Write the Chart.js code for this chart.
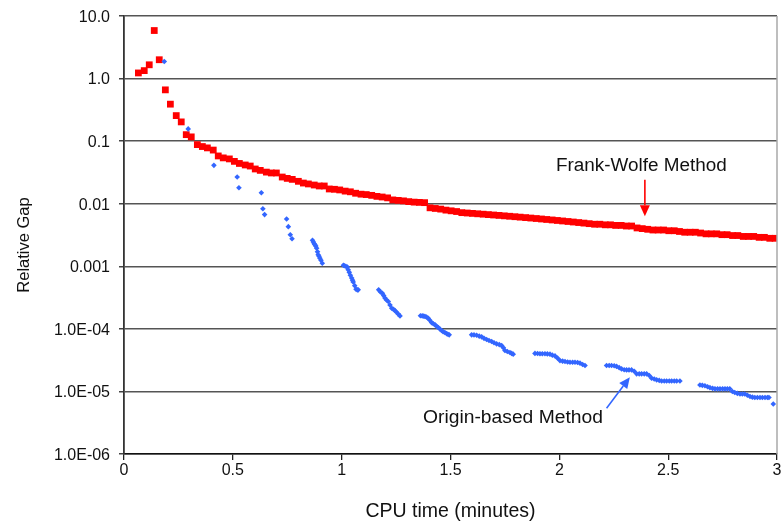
<!DOCTYPE html>
<html><head><meta charset="utf-8">
<script src="https://cdn.jsdelivr.net/npm/chart.js@4/dist/chart.umd.min.js"></script>
<style>html,body{margin:0;padding:0;background:#fff}</style>
</head><body>
<canvas id="c" width="784" height="527"></canvas>
<script>
// ---- data ----
const fwTime = [0.066,0.093,0.116,0.139,0.162,0.190,0.213,0.240,0.263,0.286,0.309,0.337,0.360,0.383,0.410,0.433,0.456,0.484,0.507,0.530,0.557,0.580,0.603,0.626,0.654,0.677,0.700,0.727,0.750,0.773,0.801,0.824,0.847,0.874,0.897,0.920,0.943,
0.967,0.991,1.016,1.040,1.064,1.089,1.113,1.138,1.162,1.186,1.211,1.235,1.260,1.284,1.308,1.333,1.357,1.381,1.406,1.430,1.455,1.479,1.503,1.528,1.552,1.577,1.601,1.625,1.650,1.674,1.698,1.723,1.747,1.772,1.796,1.820,1.845,1.869,1.894,1.918,1.942,1.967,1.991,2.015,2.040,2.064,2.089,2.113,2.137,2.162,2.186,2.211,2.235,2.259,2.284,2.308,2.332,2.357,2.381,2.406,2.430,2.454,2.479,2.503,2.528,2.552,2.576,2.601,2.625,2.649,2.674,2.698,2.723,2.747,2.771,2.796,2.820,2.845,2.869,2.893,2.918,2.942,2.967,2.991];
const fwGap = [1.23,1.34,1.66,5.86,2.0,0.66,0.39,0.256,0.203,0.127,0.117,0.088,0.082,0.078,0.072,0.058,0.054,0.052,0.0475,0.044,0.0416,0.040,0.0359,0.0341,0.032,0.031,0.031,0.0267,0.0254,0.0245,0.0228,0.0214,0.0207,0.0199,0.0192,0.0192,0.0172,
0.0170,0.0166,0.0159,0.0155,0.0147,0.0142,0.0140,0.0136,0.0131,0.0128,0.0124,0.0115,0.0113,0.0111,0.0108,0.0106,0.0105,0.0104,0.0086,0.0084,0.0082,0.0079,0.0077,0.0075,0.0072,0.0071,0.0070,0.0069,0.0068,0.0067,0.0066,0.0065,0.0064,0.0063,0.0062,0.0061,0.0060,0.0059,0.0058,0.0057,0.0056,0.0055,0.0054,0.0053,0.0052,0.0051,0.0050,0.0049,0.0048,0.0047,0.0047,0.0046,0.0046,0.0045,0.0045,0.0044,0.0044,0.0041,0.0040,0.0039,0.0038,0.0038,0.0038,0.0037,0.0037,0.0036,0.0035,0.0035,0.0035,0.0034,0.0033,0.0033,0.0033,0.0032,0.0032,0.0031,0.0031,0.0030,0.0030,0.0030,0.0029,0.0029,0.0028,0.0028];

const obTime = [0.185,0.295,0.413,0.520,0.528,0.631,0.638,0.646,0.747,0.755,0.764,0.772,
0.866,0.870,0.874,0.877,0.881,0.885,0.889,0.892,0.896,0.900,0.905,0.911,
1.008,1.012,1.019,1.026,1.030,1.035,1.040,1.046,1.050,1.053,1.060,1.066,1.072,1.076,
1.170,1.178,1.187,1.193,1.199,1.206,1.214,1.222,1.230,1.238,1.245,1.252,1.260,1.268,
1.362,1.370,1.377,1.383,1.390,1.398,1.405,1.413,1.421,1.429,1.436,1.444,1.451,1.459,1.466,1.474,1.482,1.488,1.494,
1.597,1.608,1.620,1.632,1.643,1.654,1.666,1.677,1.689,1.700,1.712,1.724,1.735,1.743,1.750,1.761,1.773,1.781,1.788,
1.888,1.900,1.911,1.922,1.934,1.945,1.957,1.968,1.980,1.992,2.003,2.015,2.026,2.038,2.049,2.061,2.072,2.084,2.095,2.107,2.118,
2.217,2.229,2.240,2.252,2.263,2.275,2.286,2.298,2.309,2.320,2.332,2.344,2.355,2.367,2.378,2.390,2.401,2.413,2.424,2.436,2.447,2.459,2.470,2.482,2.493,2.505,2.516,2.528,2.539,2.554,
2.646,2.657,2.669,2.681,2.692,2.704,2.715,2.727,2.738,2.750,2.761,2.772,2.783,2.795,2.806,2.818,2.830,2.841,2.852,2.864,2.876,2.887,2.898,2.910,2.922,2.933,2.945,2.956,2.963,2.983];
const obGap = [1.87,0.157,0.041,0.0267,0.018,0.015,0.0083,0.0067,0.0057,0.0043,0.0032,0.00275,
0.0026,0.00244,0.0023,0.00221,0.0021,0.00195,0.0017,0.00153,0.00145,0.00135,0.00125,0.00112,
0.00104,0.00102,0.00100,0.00097,0.00088,0.00080,0.00072,0.00065,0.00060,0.00056,0.00049,0.00043,0.00042,0.00042,
0.00042,0.00039,0.00037,0.00034,0.00031,0.00029,0.000273,0.00024,0.000214,0.000205,0.000196,0.000184,0.000172,0.000161,
0.000162,0.000161,0.00016,0.000158,0.000154,0.000148,0.000137,0.000126,0.000121,0.000116,0.00011,0.000105,0.0000995,0.000094,0.00009,0.0000873,0.000084,0.000082,0.0000802,
0.0000802,0.00008,0.000079,0.0000765,0.0000745,0.0000705,0.0000675,0.000065,0.0000627,0.00006,0.0000575,0.000056,0.000054,0.00005,0.000045,0.0000435,0.0000418,0.0000405,0.0000394,
0.0000405,0.0000403,0.00004,0.00004,0.00004,0.0000398,0.0000394,0.000038,0.000037,0.000034,0.0000311,0.0000305,0.00003,0.0000296,0.0000293,0.0000293,0.0000293,0.000029,0.0000283,0.000027,0.0000259,
0.0000259,0.0000259,0.0000259,0.0000257,0.0000251,0.000024,0.0000229,0.0000222,0.0000221,0.0000221,0.0000221,0.000021,0.0000191,0.0000191,0.0000191,0.0000191,0.0000191,0.000018,0.0000163,0.0000158,0.0000153,0.000015,0.0000147,0.0000147,0.0000147,0.0000147,0.0000147,0.0000147,0.0000147,0.0000147,
0.0000127,0.0000125,0.0000123,0.0000119,0.0000115,0.0000112,0.000011,0.000011,0.000011,0.000011,0.000011,0.000011,0.000011,0.00001,0.0000096,0.0000093,0.0000091,0.0000091,0.0000091,0.0000087,0.0000083,0.0000081,0.000008,0.000008,0.000008,0.000008,0.000008,0.000008,0.000008,0.0000063];

const xTickValues = [0,0.5,1,1.5,2,2.5,3];
const xTickLabels = ['0','0.5','1','1.5','2','2.5','3'];
const yTickValues = [10,1,0.1,0.01,0.001,1e-4,1e-5,1e-6];
const yTickLabels = ['10.0','1.0','0.1','0.01','0.001','1.0E-04','1.0E-05','1.0E-06'];
const xTitle = 'CPU time (minutes)';
const yTitle = 'Relative Gap';
const fwLabel = 'Frank-Wolfe Method';
const obLabel = 'Origin-based Method';
// annotation anchors in data units
const fwNote = {x: 2.377, y: 0.033};
const fwArrow = {x0: 2.393, y0: 0.0242, x1: 2.393, y1: 0.0063};
const obNote = {x: 1.787, y: 3.13e-6};
const obArrow = {x0: 2.217, y0: 5.4e-6, x1: 2.324, y1: 1.69e-5};

const FONT = '"Liberation Sans", Arial, Helvetica, sans-serif';
const RED = '#ff0000';
const BLUE = '#3366ff';

function arrow(ctx, x0, y0, x1, y1, color) {
  const ang = Math.atan2(y1 - y0, x1 - x0);
  const L = 11, W = 5;
  const bx = x1 - L * Math.cos(ang), by = y1 - L * Math.sin(ang);
  ctx.strokeStyle = color; ctx.fillStyle = color; ctx.lineWidth = 1.6;
  ctx.beginPath(); ctx.moveTo(x0, y0); ctx.lineTo(bx, by); ctx.stroke();
  ctx.beginPath();
  ctx.moveTo(x1, y1);
  ctx.lineTo(bx + W * Math.sin(ang), by - W * Math.cos(ang));
  ctx.lineTo(bx - W * Math.sin(ang), by + W * Math.cos(ang));
  ctx.closePath(); ctx.fill();
}

const overlay = {
  id: 'overlay',
  afterDraw(chart) {
    const {ctx, chartArea: a, scales: {x, y}} = chart;
    ctx.save();
    // right frame line
    ctx.strokeStyle = '#a8a8a8'; ctx.lineWidth = 1.5;
    ctx.beginPath(); ctx.moveTo(a.right, a.top); ctx.lineTo(a.right, a.bottom); ctx.stroke();
    // tick labels
    ctx.fillStyle = '#111';
    ctx.font = '16px ' + FONT;
    ctx.textAlign = 'right'; ctx.textBaseline = 'alphabetic';
    yTickValues.forEach((v, i) => ctx.fillText(yTickLabels[i], a.left - 14, y.getPixelForValue(v) + 5.8));
    ctx.textAlign = 'center';
    xTickValues.forEach((v, i) => ctx.fillText(xTickLabels[i], x.getPixelForValue(v), a.bottom + 21));
    // axis titles
    ctx.font = '19.5px ' + FONT;
    ctx.fillText(xTitle, (a.left + a.right) / 2, 517);
    ctx.save();
    ctx.font = '16.5px ' + FONT;
    ctx.translate(28.5, 245);
    ctx.rotate(-Math.PI / 2);
    ctx.fillText(yTitle, 0, 0);
    ctx.restore();
    // annotations
    ctx.font = '18px ' + FONT;
    ctx.save();
    ctx.translate(x.getPixelForValue(fwNote.x), y.getPixelForValue(fwNote.y));
    ctx.scale(1.05, 1);
    ctx.fillText(fwLabel, 0, 0);
    ctx.restore();
    ctx.save();
    ctx.translate(x.getPixelForValue(obNote.x), y.getPixelForValue(obNote.y));
    ctx.scale(1.07, 1);
    ctx.fillText(obLabel, 0, 0);
    ctx.restore();
    arrow(ctx, x.getPixelForValue(fwArrow.x0), y.getPixelForValue(fwArrow.y0),
               x.getPixelForValue(fwArrow.x1), y.getPixelForValue(fwArrow.y1), RED);
    arrow(ctx, x.getPixelForValue(obArrow.x0), y.getPixelForValue(obArrow.y0),
               x.getPixelForValue(obArrow.x1), y.getPixelForValue(obArrow.y1), BLUE);
    ctx.restore();
  }
};

new Chart(document.getElementById('c'), {
  type: 'scatter',
  data: {
    datasets: [
      { label: obLabel, data: obTime.map((t, i) => ({x: t, y: obGap[i]})),
        pointStyle: 'rectRot', pointRadius: 2.8, backgroundColor: BLUE, borderWidth: 0, showLine: false },
      { label: fwLabel, data: fwTime.map((t, i) => ({x: t, y: fwGap[i]})),
        pointStyle: 'rect', pointRadius: 4.8, backgroundColor: RED, borderWidth: 0, showLine: false }
    ]
  },
  options: {
    responsive: false,
    animation: false,
    devicePixelRatio: 1,
    layout: { padding: { top: 16, right: 7, left: 0, bottom: 0 } },
    plugins: { legend: { display: false }, tooltip: { enabled: false } },
    scales: {
      x: {
        type: 'linear', min: 0, max: 3,
        ticks: { display: false, stepSize: 0.5 },
        afterBuildTicks: s => { s.ticks = xTickValues.map(v => ({value: v})); },
        afterFit: s => { s.height = 73; },
        grid: { drawOnChartArea: false, drawTicks: true, tickLength: 6, color: '#222', lineWidth: 1.3 },
        border: { display: true, color: '#111', width: 1.5 }
      },
      y: {
        type: 'logarithmic', min: 1e-6, max: 10,
        ticks: { display: false },
        afterBuildTicks: s => { s.ticks = yTickValues.map(v => ({value: v})); },
        afterFit: s => { s.width = 124; },
        grid: { color: '#555', lineWidth: 1.5, drawTicks: true, tickLength: 5, tickColor: '#444' },
        border: { display: true, color: '#333', width: 1.8 }
      }
    }
  },
  plugins: [overlay]
});
</script>
</body></html>
